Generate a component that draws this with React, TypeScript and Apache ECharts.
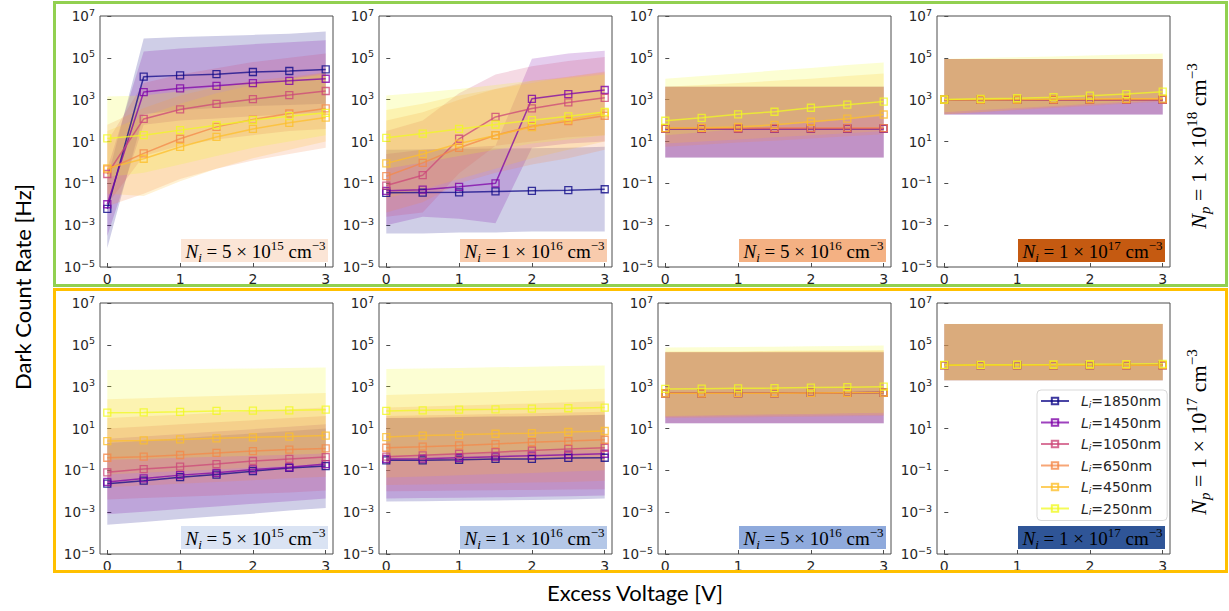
import { useEffect, useRef } from 'react';
import * as echarts from 'echarts';

// Excess voltage sample points [V]
const VOLTAGES = [0, 0.5, 1, 1.5, 2, 2.5, 3];
const X_TICKS = [0, 1, 2, 3];
// Intrinsic-layer thickness for each curve, nm
const LENGTHS = ['1850', '1450', '1050', '650', '450', '250'];
const COLORS = ['#0d0887', '#7e03a8', '#cc4778', '#f48849', '#fdbf2b', '#f0f921'];

// Panel annotations
const NI_MANTISSA = ['5', '1', '5', '1'];
const NI_EXPONENT = ['15', '16', '16', '17'];
const NP_EXPONENT = ['18', '17'];
const TOP_BOX_COLORS = ['#fbe5d6', '#f8cbad', '#f4b183', '#c55a11'];
const BOTTOM_BOX_COLORS = ['#dae3f3', '#b4c7e7', '#8faadc', '#2f5597'];

// ---- N_p = 1e18 row ----
// N_i = 5e15
const t1Rate = [
  [0.006, 12500, 14500, 16500, 21000, 23500, 28000],
  [0.01, 2300, 3500, 4600, 6200, 8000, 10000],
  [0.28, 120, 340, 630, 1050, 1650, 2600],
  [0.46, 2.7, 13.5, 50, 112, 218, 380],
  [0.52, 1.5, 5.5, 16.5, 40, 78, 140],
  [14, 20, 35, 60, 105, 163, 235],
];
const t1Low = [
  [8e-5, 200, 320, 400, 500, 560, 630],
  [3e-4, 63, 100, 125, 160, 200, 250],
  [0.01, 2, 6.3, 12.5, 20, 32, 40],
  [0.008, 0.032, 0.16, 0.5, 1.25, 2.5, 5],
  [0.032, 0.025, 0.125, 0.5, 1.6, 4, 10],
  [0.2, 0.32, 0.8, 2, 5, 10, 20],
];
const t1High = [
  [0.16, 8.5e5, 1e6, 1.1e6, 1.25e6, 1.4e6, 1.8e6],
  [0.5, 2e5, 2.8e5, 3.5e5, 4.5e5, 5.6e5, 7e5],
  [10, 6300, 16000, 32000, 63000, 1e5, 1.6e5],
  [63, 400, 1600, 4000, 8000, 12500, 20000],
  [32, 160, 630, 2000, 5000, 10000, 20000],
  [1400, 1600, 2500, 4000, 6300, 10000, 16000],
];

// N_i = 1e16
const t2Rate = [
  [0.035, 0.036, 0.037, 0.041, 0.044, 0.047, 0.052],
  [0.044, 0.05, 0.068, 0.1, 1100, 1850, 2900],
  [0.078, 0.245, 13.5, 150, 380, 740, 1230],
  [0.22, 0.95, 5, 20, 54, 94, 170],
  [0.9, 2.5, 8, 19.5, 49, 110, 220],
  [15, 24, 40, 65, 105, 160, 260],
];
const t2Low = [
  [4e-4, 4e-4, 4.5e-4, 4.5e-4, 5e-4, 5e-4, 5e-4],
  [1e-3, 2.5e-3, 2e-3, 1.25e-3, 5, 8, 10],
  [2.5e-3, 4e-3, 0.3, 6.3, 10, 16, 20],
  [4e-3, 0.0125, 0.1, 0.32, 0.8, 1.6, 4],
  [0.02, 0.05, 0.16, 0.5, 1.6, 4, 10],
  [0.5, 1, 2, 4, 8, 12.5, 20],
];
const t2High = [
  [4, 4.2, 4.4, 4.6, 4.8, 5, 5.6],
  [2.5, 4, 5, 6.3, 9e4, 1.6e5, 2.2e5],
  [32, 100, 2000, 16000, 40000, 70000, 1.1e5],
  [100, 250, 1000, 3200, 8000, 12500, 22000],
  [320, 630, 1600, 3200, 6300, 12500, 20000],
  [1600, 2200, 3200, 5000, 8000, 11000, 16000],
];

// N_i = 5e16
const t3Rate = [
  [41, 41, 41, 41, 41, 41, 41],
  [41, 41, 41, 41, 41, 41, 41],
  [42, 42, 42, 42, 42, 42, 42],
  [43, 43, 43, 44, 44, 44, 44],
  [44, 45, 50, 63, 88, 123, 195],
  [98, 135, 200, 265, 410, 575, 810],
];
const t3Low = [
  [1.7, 1.7, 1.7, 1.7, 1.7, 1.7, 1.7],
  [1.7, 1.7, 1.7, 1.7, 1.7, 1.7, 1.7],
  [1.7, 1.7, 1.7, 1.7, 1.7, 1.7, 1.7],
  [5.6, 7, 9, 11, 14, 18, 22],
  [8, 10, 12.5, 16, 20, 25, 32],
  [20, 28, 40, 56, 80, 112, 160],
];
const t3High = [
  [4200, 4200, 4200, 4200, 4200, 4200, 4200],
  [4200, 4200, 4200, 4200, 4200, 4200, 4200],
  [4200, 4200, 4200, 4200, 4200, 4200, 4200],
  [4200, 4200, 4200, 4200, 4200, 4200, 4200],
  [4200, 5000, 6300, 8000, 10000, 13500, 18000],
  [10000, 13500, 18000, 24500, 33000, 45000, 60000],
];

// N_i = 1e17
const t4Rate = [
  [1000, 1000, 1000, 1000, 1000, 1000, 1000],
  [1000, 1000, 1000, 1000, 1000, 1000, 1000],
  [1000, 1000, 1000, 1000, 1000, 1000, 1000],
  [1000, 1000, 1000, 1000, 1000, 1000, 1000],
  [1000, 1000, 1020, 1050, 1070, 1100, 1120],
  [1020, 1100, 1170, 1320, 1550, 1860, 2400],
];
const t4Low = [
  [195, 195, 195, 195, 195, 195, 195],
  [195, 195, 195, 195, 195, 195, 195],
  [195, 195, 195, 195, 195, 195, 195],
  [200, 250, 320, 400, 500, 630, 800],
  [200, 260, 340, 440, 560, 720, 900],
  [250, 320, 400, 500, 630, 800, 1000],
];
const t4High = [
  [89000, 89000, 89000, 89000, 89000, 89000, 89000],
  [89000, 89000, 89000, 89000, 89000, 89000, 89000],
  [89000, 89000, 89000, 89000, 89000, 89000, 89000],
  [89000, 89000, 89000, 89000, 89000, 89000, 89000],
  [89000, 89000, 89000, 89000, 89000, 89000, 89000],
  [89000, 98000, 107000, 117000, 129000, 145000, 162000],
];

// ---- N_p = 1e17 row ----
// N_i = 5e15
const b1Rate = [
  [0.023, 0.032, 0.047, 0.063, 0.091, 0.13, 0.16],
  [0.028, 0.041, 0.059, 0.076, 0.11, 0.14, 0.2],
  [0.08, 0.115, 0.15, 0.2, 0.28, 0.35, 0.43],
  [0.4, 0.45, 0.54, 0.68, 0.83, 0.98, 1.12],
  [2.5, 2.7, 3.0, 3.4, 3.8, 4.1, 4.6],
  [57, 59, 63, 69, 71, 74, 79],
];
const b1Low = [
  [2.5e-4, 3.4e-4, 4.7e-4, 6.3e-4, 8.5e-4, 1.2e-3, 1.6e-3],
  [7.9e-4, 1.05e-3, 1.4e-3, 1.86e-3, 2.5e-3, 3.3e-3, 4.5e-3],
  [0.004, 0.0047, 0.0055, 0.0063, 0.0075, 0.0088, 0.011],
  [0.016, 0.019, 0.023, 0.028, 0.034, 0.042, 0.05],
  [0.063, 0.076, 0.093, 0.11, 0.135, 0.166, 0.2],
  [0.32, 0.35, 0.4, 0.45, 0.5, 0.56, 0.63],
];
const b1High = [
  [2, 2.6, 3.4, 4.5, 5.8, 7.6, 10],
  [3.2, 4.2, 5.4, 7.1, 9.3, 12, 16],
  [10, 12.6, 16, 20, 25, 32, 40],
  [32, 38, 46, 56, 68, 83, 100],
  [250, 280, 320, 355, 400, 450, 500],
  [6300, 6500, 6800, 7100, 7400, 7900, 8300],
];

// N_i = 1e16
const b2Rate = [
  [0.3, 0.3, 0.32, 0.35, 0.35, 0.39, 0.4],
  [0.35, 0.36, 0.4, 0.45, 0.5, 0.56, 0.62],
  [0.45, 0.52, 0.62, 0.74, 0.89, 1.05, 1.2],
  [1.2, 1.35, 1.55, 1.8, 2.2, 2.5, 2.9],
  [3.9, 4.6, 5.0, 5.6, 6.0, 6.8, 7.6],
  [69, 74, 79, 83, 89, 93, 100],
];
const b2Low = [
  [0.0032, 0.0033, 0.0035, 0.0036, 0.0038, 0.004, 0.0045],
  [0.0045, 0.0047, 0.0049, 0.0051, 0.0054, 0.0057, 0.0063],
  [0.01, 0.0104, 0.0108, 0.0112, 0.0116, 0.012, 0.0126],
  [0.02, 0.021, 0.022, 0.024, 0.026, 0.028, 0.032],
  [0.045, 0.051, 0.059, 0.066, 0.075, 0.088, 0.1],
  [0.5, 0.56, 0.63, 0.7, 0.8, 0.9, 1],
];
const b2High = [
  [32, 33, 35, 37, 39, 42, 45],
  [32, 33, 35, 37, 39, 42, 45],
  [40, 43, 46, 50, 54, 58, 63],
  [100, 112, 126, 141, 158, 178, 200],
  [400, 450, 500, 560, 630, 710, 800],
  [6900, 7400, 7900, 8400, 8900, 9600, 10200],
];

// N_i = 5e16
const b3Rate = [
  [480, 480, 490, 490, 500, 510, 520],
  [480, 480, 490, 490, 500, 510, 520],
  [480, 480, 490, 490, 500, 510, 520],
  [480, 480, 490, 490, 500, 510, 520],
  [480, 480, 490, 490, 500, 510, 520],
  [780, 800, 830, 860, 900, 950, 1000],
];
const b3Low = [
  [18, 18, 18, 18, 18, 18, 18],
  [18, 18, 18, 18, 18, 18, 18],
  [18, 18, 18, 18, 18, 18, 18],
  [32, 33, 34, 35, 36, 38, 40],
  [35, 37, 39, 41, 42, 43, 45],
  [40, 42, 45, 48, 50, 53, 56],
];
const b3High = [
  [44000, 44000, 44000, 44000, 44000, 44000, 44000],
  [44000, 44000, 44000, 44000, 44000, 44000, 44000],
  [44000, 44000, 44000, 44000, 44000, 44000, 44000],
  [44000, 45000, 46000, 48000, 49000, 50000, 52000],
  [48000, 49000, 50000, 52000, 53000, 55000, 56000],
  [74000, 76000, 79000, 82000, 85000, 89000, 93000],
];

// N_i = 1e17
const b4Rate = [
  [10700, 10700, 10700, 10700, 10700, 10700, 10700],
  [10700, 10700, 10700, 10700, 10700, 10700, 10700],
  [10700, 10700, 10700, 10700, 10700, 10700, 10700],
  [10700, 10700, 10700, 10700, 10700, 10700, 10700],
  [10700, 10700, 10700, 10700, 10700, 10700, 10700],
  [11000, 11100, 11300, 11500, 11800, 12000, 12300],
];
const b4Low = [
  [2000, 2000, 2000, 2000, 2000, 2000, 2000],
  [2000, 2000, 2000, 2000, 2000, 2000, 2000],
  [2000, 2000, 2000, 2000, 2000, 2000, 2000],
  [2000, 2000, 2000, 2000, 2000, 2000, 2000],
  [2000, 2000, 2000, 2000, 2000, 2000, 2000],
  [2000, 2000, 2000, 2000, 2000, 2000, 2000],
];
const b4High = [
  [1e6, 1e6, 1e6, 1e6, 1e6, 1e6, 1e6],
  [1e6, 1e6, 1e6, 1e6, 1e6, 1e6, 1e6],
  [1e6, 1e6, 1e6, 1e6, 1e6, 1e6, 1e6],
  [1e6, 1e6, 1e6, 1e6, 1e6, 1e6, 1e6],
  [1e6, 1e6, 1e6, 1e6, 1e6, 1e6, 1e6],
  [1e6, 1.01e6, 1.02e6, 1.03e6, 1.04e6, 1.04e6, 1.05e6],
];

const PANELS = [
  [t1Rate, t1Low, t1High],
  [t2Rate, t2Low, t2High],
  [t3Rate, t3Low, t3High],
  [t4Rate, t4Low, t4High],
  [b1Rate, b1Low, b1High],
  [b2Rate, b2Low, b2High],
  [b3Rate, b3Low, b3High],
  [b4Rate, b4Low, b4High],
];

// Layout (px)
const GRID_LEFT = [100, 379, 658, 937];
const GRID_TOP = [16, 303];
const GRID_W = 233;
const GRID_H = 251;

const SANS = 'DejaVu Sans';
const SERIF = 'Liberation Serif';
const TITLE_FONT = 'Lato';

function hexToRgba(hex: string, a: number) {
  const n = parseInt(hex.slice(1), 16);
  return `rgba(${(n >> 16) & 255},${(n >> 8) & 255},${n & 255},${a})`;
}

const mathRich = (size: number) => ({
  n: { fontFamily: SERIF, fontStyle: 'italic', fontSize: size, lineHeight: size + 6, verticalAlign: 'middle', color: '#000' },
  s: { fontFamily: SERIF, fontStyle: 'italic', fontSize: Math.round(size * 0.7), lineHeight: Math.round(size * 0.85), verticalAlign: 'bottom', color: '#000' },
  t: { fontFamily: SERIF, fontSize: size, lineHeight: size + 6, verticalAlign: 'middle', color: '#000' },
  p: { fontFamily: SERIF, fontSize: Math.round(size * 0.7), lineHeight: Math.round(size * 0.75), verticalAlign: 'top', color: '#000' },
});

function buildOption() {
  const grid: any[] = [];
  const xAxis: any[] = [];
  const yAxis: any[] = [];
  const series: any[] = [];
  const graphic: any[] = [];

  PANELS.forEach(([rate, low, high], p) => {
    const row = Math.floor(p / 4);
    const col = p % 4;
    const left = GRID_LEFT[col];
    const top = GRID_TOP[row];
    grid.push({
      left, top, width: GRID_W, height: GRID_H,
      show: true, borderColor: '#4d4d4d', borderWidth: 1, backgroundColor: 'transparent',
    });
    xAxis.push({
      gridIndex: p, type: 'value', min: -0.1, max: 3.1,
      axisLine: { show: false },
      splitLine: { show: false },
      axisTick: { show: true, inside: true, length: 4, customValues: X_TICKS, lineStyle: { color: '#4d4d4d' } },
      axisLabel: { customValues: X_TICKS, fontFamily: SANS, fontSize: 14, color: '#262626', margin: 5 },
    });
    yAxis.push({
      gridIndex: p, type: 'log', logBase: 10, min: 1e-5, max: 1e7, interval: 2,
      axisLine: { show: false },
      splitLine: { show: false },
      minorTick: { show: false },
      axisTick: { show: true, inside: true, length: 4, lineStyle: { color: '#4d4d4d' } },
      axisLabel: {
        margin: 5,
        showMinLabel: true, showMaxLabel: true,
        formatter: (v: number) => {
          const e = Math.round(Math.log10(v));
          return `{b|10}{e|${e < 0 ? '−' + -e : e}}`;
        },
        rich: {
          b: { fontFamily: SANS, fontSize: 13.5, color: '#262626', lineHeight: 18, verticalAlign: 'middle' },
          e: { fontFamily: SANS, fontSize: 9.5, color: '#262626', lineHeight: 11, verticalAlign: 'top' },
        },
      },
    });

    // shaded spread of each curve
    LENGTHS.forEach((_, s) => {
      const lo = low[s];
      const hi = high[s];
      series.push({
        type: 'custom', xAxisIndex: p, yAxisIndex: p, silent: true, z: 1,
        data: VOLTAGES.map((x, i) => [x, lo[i], hi[i]]),
        encode: { x: 0, y: [1, 2] },
        renderItem: (params: any, api: any) => {
          if (params.dataIndex !== 0) return null;
          const upper = VOLTAGES.map((x, i) => api.coord([x, hi[i]]));
          const lower = VOLTAGES.map((x, i) => api.coord([x, lo[i]])).reverse();
          return {
            type: 'polygon',
            shape: { points: upper.concat(lower) },
            style: { fill: hexToRgba(COLORS[s], 0.2) },
          };
        },
      });
    });

    // dark count rate curves
    LENGTHS.forEach((name, s) => {
      series.push({
        type: 'line', name, xAxisIndex: p, yAxisIndex: p, z: 3,
        data: VOLTAGES.map((x, i) => [x, rate[s][i]]),
        color: COLORS[s],
        symbol: 'rect', symbolSize: 7, showSymbol: true,
        lineStyle: { color: COLORS[s], width: 1.5, opacity: 0.75 },
        itemStyle: { color: 'rgba(255,255,255,0)', borderColor: COLORS[s], borderWidth: 1.3, opacity: 0.8 },
        emphasis: { disabled: true },
      });
    });

    // N_i annotation box
    const boxW = 147;
    const boxH = 23;
    const bx = left + GRID_W - 5 - boxW;
    const by = top + GRID_H - 5 - boxH;
    const boxColor = row === 0 ? TOP_BOX_COLORS[col] : BOTTOM_BOX_COLORS[col];
    graphic.push({ type: 'rect', shape: { x: bx, y: by, width: boxW, height: boxH }, style: { fill: boxColor }, z: 10 });
    graphic.push({
      type: 'text', x: bx + boxW / 2 + 1, y: by + boxH / 2 + 1, z: 11,
      style: {
        text: `{n|N}{s|i}{t| = ${NI_MANTISSA[col]} × 10}{p|${NI_EXPONENT[col]}}{t| cm}{p|−3}`,
        rich: mathRich(19),
        align: 'center', verticalAlign: 'middle',
      },
    });
  });

  // row frames
  graphic.push({ type: 'rect', shape: { x: 54.5, y: 2.5, width: 1172, height: 283 }, style: { fill: 'none', stroke: '#92d050', lineWidth: 3 }, z: 20 });
  graphic.push({ type: 'rect', shape: { x: 54.5, y: 289.5, width: 1172, height: 282 }, style: { fill: 'none', stroke: '#ffc000', lineWidth: 3 }, z: 20 });

  // N_p row labels
  NP_EXPONENT.forEach((e, row) => {
    graphic.push({
      type: 'text', x: 1198, y: row === 0 ? 146 : 432, rotation: Math.PI / 2, z: 11,
      style: {
        text: `{n|N}{s|p}{t| = 1 × 10}{p|${e}}{t| cm}{p|−3}`,
        rich: mathRich(22),
        align: 'center', verticalAlign: 'middle',
      },
    });
  });

  // axis titles
  graphic.push({
    type: 'text', x: 22, y: 287, rotation: Math.PI / 2, z: 11,
    style: { text: 'Dark Count Rate [Hz]', fontFamily: TITLE_FONT, fontSize: 22, fill: '#000', align: 'center', verticalAlign: 'middle' },
  });
  graphic.push({
    type: 'text', x: 635, y: 592, z: 11,
    style: { text: 'Excess Voltage [V]', fontFamily: TITLE_FONT, fontSize: 22, fill: '#000', align: 'center', verticalAlign: 'middle' },
  });

  return {
    animation: false,
    backgroundColor: '#ffffff',
    grid, xAxis, yAxis, series, graphic,
    legend: {
      data: LENGTHS,
      orient: 'vertical',
      left: 1037, top: 390,
      itemWidth: 28, itemHeight: 8, itemGap: 6.5,
      padding: [4, 6, 4, 3],
      backgroundColor: 'rgba(255,255,255,0.85)',
      borderColor: '#d9d9d9', borderWidth: 1, borderRadius: 4,
      selectedMode: false,
      z: 30,
      formatter: (name: string) => `{i|L}{s|i}{t|=${name}nm}`,
      textStyle: {
        fontFamily: SANS, fontSize: 13.5, color: '#262626',
        rich: {
          i: { fontFamily: SANS, fontStyle: 'italic', fontSize: 14, lineHeight: 16, verticalAlign: 'middle', padding: [0, 0, 0, 7] },
          s: { fontFamily: SANS, fontStyle: 'italic', fontSize: 9, lineHeight: 11, verticalAlign: 'bottom' },
          t: { fontFamily: SANS, fontSize: 14, lineHeight: 16, verticalAlign: 'middle' },
        },
      },
    },
  };
}

export default function App() {
  const ref = useRef<HTMLDivElement>(null);
  useEffect(() => {
    if (!ref.current) return;
    const chart = echarts.init(ref.current, null, { renderer: 'svg' });
    chart.setOption(buildOption() as any);
    return () => chart.dispose();
  }, []);
  return (
    <div
      ref={ref}
      style={{ position: 'fixed', left: 0, top: 0, width: 1229, height: 611, background: '#fff' }}
    />
  );
}
